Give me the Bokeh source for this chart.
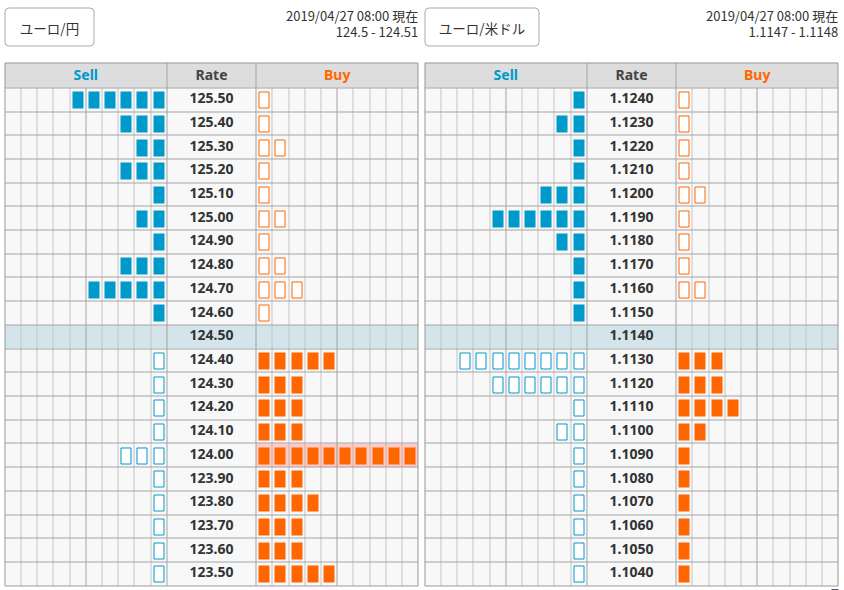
import math
from bokeh.plotting import figure
from bokeh.models import Range1d, BoxAnnotation
from bokeh.core.properties import value
from bokeh.embed import file_html
from bokeh.resources import INLINE

# ---------------- data ----------------
pair_names = ["ユーロ/円", "ユーロ/米ドル"]
stamp_text = "2019/04/27 08:00 現在"
quotes = ["124.5 - 124.51", "1.1147 - 1.1148"]
header_labels = ["Sell", "Rate", "Buy"]

jpy_rates = ["125.50", "125.40", "125.30", "125.20", "125.10", "125.00", "124.90",
             "124.80", "124.70", "124.60", "124.50", "124.40", "124.30", "124.20",
             "124.10", "124.00", "123.90", "123.80", "123.70", "123.60", "123.50"]
jpy_sell = [6, 3, 2, 3, 1, 2, 1, 3, 5, 1, 0, 1, 1, 1, 1, 3, 1, 1, 1, 1, 1]
jpy_buy = [1, 1, 2, 1, 1, 2, 1, 2, 3, 1, 0, 5, 3, 3, 3, 10, 3, 4, 3, 3, 5]
jpy_current = "124.50"

usd_rates = ["1.1240", "1.1230", "1.1220", "1.1210", "1.1200", "1.1190", "1.1180",
             "1.1170", "1.1160", "1.1150", "1.1140", "1.1130", "1.1120", "1.1110",
             "1.1100", "1.1090", "1.1080", "1.1070", "1.1060", "1.1050", "1.1040"]
usd_sell = [1, 2, 1, 1, 3, 6, 2, 1, 1, 1, 0, 8, 6, 1, 2, 1, 1, 1, 1, 1, 1]
usd_buy = [1, 1, 1, 1, 2, 1, 1, 1, 2, 0, 0, 3, 3, 4, 2, 1, 1, 1, 1, 1, 1]
usd_current = "1.1140"

tables = [
    (jpy_rates, jpy_sell, jpy_buy, jpy_current),
    (usd_rates, usd_sell, usd_buy, usd_current),
]

# ---------------- layout / style ----------------
W, H = 844, 590
TABLE_DX = [0, 420]
BTN_W = [89, 114]
T_L, T_R = 4.3, 417.7
RATE_L, RATE_R = 166.3, 255.7
HDR_T, HDR_B = 62.3, 87.3
ROW_H = 23.71
NCELL = 10
CELL_W = (RATE_L - T_L) / NCELL

BLUE = "#0099cc"
ORANGE = "#ff6600"
LIGHT = "#c4c4c4"
DARK = "#a3a3a3"
TXT = "#333333"


def snap(v):
    return math.floor(v) + 0.5


p = figure(width=W, height=H, output_backend="svg", toolbar_location=None,
           x_range=Range1d(0, W), y_range=Range1d(H, 0),
           x_axis_location=None, y_axis_location=None,
           min_border=0, outline_line_color=None)
p.grid.visible = False
p.background_fill_color = "white"
p.border_fill_color = "white"

for t, (rates, sell, buy, current) in enumerate(tables):
    dx = TABLE_DX[t]
    n = len(rates)
    cur = rates.index(current)
    bottom = HDR_B + n * ROW_H

    def row_top(i):
        return HDR_B + i * ROW_H

    def sell_x(k):
        return dx + T_L + k * CELL_W

    def buy_x(k):
        return dx + RATE_R + k * CELL_W

    # --- backgrounds ---
    bl, br, bt, bb, bc = [], [], [], [], []
    bl.append(dx + T_L); br.append(dx + T_R); bt.append(HDR_T); bb.append(HDR_B); bc.append("#dddddd")
    for i in range(n):
        bl.append(dx + T_L); br.append(dx + T_R)
        bt.append(row_top(i)); bb.append(row_top(i) + ROW_H)
        bc.append("#d3e5ea" if i == cur else "#f8f8f8")
    p.quad(left=bl, right=br, top=bt, bottom=bb, fill_color=bc, line_color=None)

    # overflow (highlighted) rows
    pl, pr, pt, pb = [], [], [], []
    for i in range(n):
        if buy[i] >= NCELL:
            for k in range(NCELL):
                pl.append(buy_x(k)); pr.append(buy_x(k + 1))
                pt.append(row_top(i)); pb.append(row_top(i) + ROW_H)
        if sell[i] >= NCELL:
            for k in range(NCELL):
                pl.append(sell_x(k)); pr.append(sell_x(k + 1))
                pt.append(row_top(i)); pb.append(row_top(i) + ROW_H)
    if pl:
        p.quad(left=pl, right=pr, top=pt, bottom=pb, fill_color="#ffcaca", line_color=None)

    # --- light vertical cell lines ---
    lx, ly0, ly1 = [], [], []
    for k in range(1, NCELL):
        if k == 5:
            continue
        for xx in (sell_x(k), buy_x(k)):
            lx.append(snap(xx)); ly0.append(HDR_B); ly1.append(bottom)
    p.segment(x0=lx, y0=ly0, x1=lx, y1=ly1, line_color=LIGHT, line_width=1)

    # pinkish cell lines in overflow rows
    qx, qy0, qy1 = [], [], []
    for i in range(n):
        if buy[i] >= NCELL:
            for k in range(1, NCELL):
                qx.append(snap(buy_x(k))); qy0.append(row_top(i)); qy1.append(row_top(i) + ROW_H)
    if qx:
        p.segment(x0=qx, y0=qy0, x1=qx, y1=qy1, line_color="#e2b2b2", line_width=1)

    # --- dark lines ---
    dx0, dy0, dx1, dy1 = [], [], [], []
    for xx in (sell_x(5), buy_x(5)):
        dx0.append(snap(xx)); dx1.append(snap(xx)); dy0.append(HDR_B); dy1.append(bottom)
    for xx in (dx + RATE_L, dx + RATE_R):
        dx0.append(snap(xx)); dx1.append(snap(xx)); dy0.append(HDR_T); dy1.append(bottom)
    for i in range(0, n):
        yy = snap(row_top(i))
        dx0.append(dx + T_L); dx1.append(dx + T_R); dy0.append(yy); dy1.append(yy)
    p.segment(x0=dx0, y0=dy0, x1=dx1, y1=dy1, line_color=DARK, line_width=1)
    # outer border
    p.quad(left=[snap(dx + T_L)], right=[snap(dx + T_R)], top=[snap(HDR_T)], bottom=[snap(bottom)],
           fill_color=None, line_color="#999999", line_width=1)

    # --- bars ---
    fl, fr, ft, fb, fc = [], [], [], [], []
    hl, hr, ht, hb, hc = [], [], [], [], []
    for i in range(n):
        rt = row_top(i)
        cells = [(sell_x(NCELL - 1 - j), BLUE, i < cur) for j in range(min(sell[i], NCELL))]
        cells += [(buy_x(j), ORANGE, i > cur) for j in range(min(buy[i], NCELL))]
        for cl, col, filled in cells:
            if filled:
                left = round(cl + 2.5)
                top = round(rt + 3.8)
                fl.append(left); fr.append(left + 11); ft.append(top); fb.append(top + 17); fc.append(col)
            else:
                left = round(cl + 2.5) + 0.5
                top = round(rt + 3.8) + 0.5
                hl.append(left); hr.append(left + 10); ht.append(top); hb.append(top + 16); hc.append(col)
    if fl:
        p.quad(left=fl, right=fr, top=ft, bottom=fb, fill_color=fc, line_color=None)
    if hl:
        p.quad(left=hl, right=hr, top=ht, bottom=hb, fill_color="white", line_color=hc, line_width=1)

    # --- rate labels ---
    p.text(x=[dx + (RATE_L + RATE_R) / 2] * n,
           y=[row_top(i) + ROW_H / 2 - 1.5 for i in range(n)],
           text=rates, text_font=value("Noto Sans"), text_font_style="bold",
           text_font_size="14px", text_align="center", text_baseline="middle",
           text_color=TXT)

    # --- header labels ---
    p.text(x=[dx + (T_L + RATE_L) / 2, dx + (RATE_L + RATE_R) / 2, dx + (RATE_R + T_R) / 2],
           y=[(HDR_T + HDR_B) / 2 - 1] * 3, text=header_labels,
           text_font=value("Noto Sans"), text_font_style="bold", text_font_size="14px",
           text_align="center", text_baseline="middle",
           text_color=[BLUE, "#444444", ORANGE])

    # --- timestamp / quote ---
    p.text(x=[dx + T_R, dx + T_R], y=[15, 31], text=[stamp_text, quotes[t]],
           text_font=value("Noto Sans CJK JP"), text_font_size="13px",
           text_align="right", text_baseline="middle", text_color=TXT)

    # --- pair button ---
    bx0 = snap(dx + T_L)
    box = BoxAnnotation(left=bx0, right=bx0 + BTN_W[t], top=7.5, bottom=45.5,
                        fill_color="white", fill_alpha=1, line_color="#aaaaaa",
                        line_width=1, line_alpha=1, border_radius=4, level="underlay")
    p.add_layout(box)
    p.text(x=[bx0 + BTN_W[t] / 2], y=[27], text=[pair_names[t]],
           text_font=value("Noto Sans CJK JP"), text_font_size="13.5px",
           text_align="center", text_baseline="middle", text_color=TXT)

# small page-corner marker visible at the bottom right of the original page
p.quad(left=[831], right=[838], top=[588.7], bottom=[590], fill_color="#1f2d4d", line_color=None)

html = file_html(p, INLINE, title="order book")
html = html.replace("<head>", "<head><style>html,body{margin:0;padding:0;}</style>", 1)
open("out.html", "w").write(html)
